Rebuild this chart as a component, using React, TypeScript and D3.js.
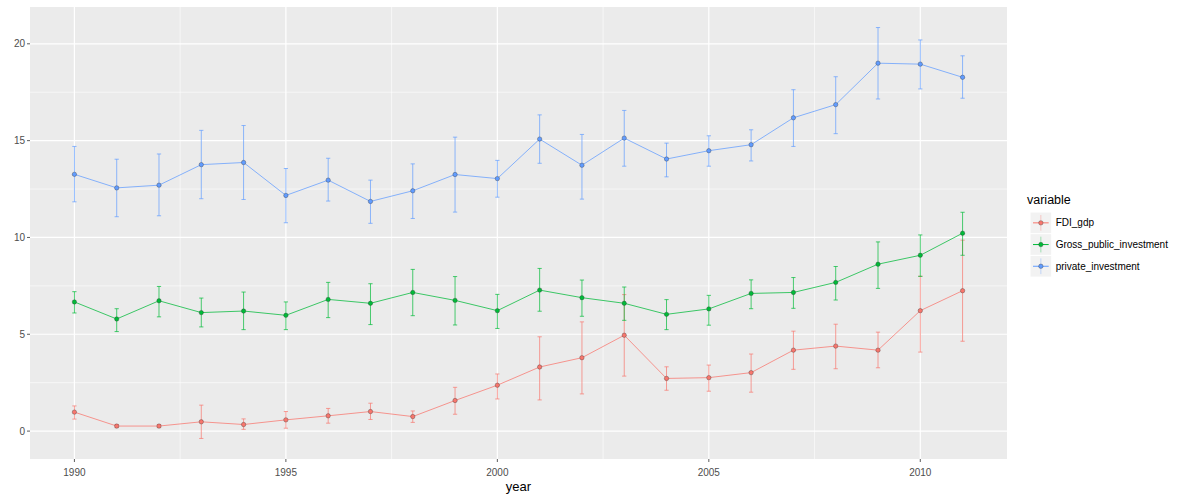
import React from 'react';
import * as d3 from 'd3';

const years = [1990, 1991, 1992, 1993, 1994, 1995, 1996, 1997, 1998, 1999, 2000, 2001, 2002, 2003, 2004, 2005, 2006, 2007, 2008, 2009, 2010, 2011];

const seriesNames = ['FDI_gdp', 'Gross_public_investment', 'private_investment'];
const seriesColors = ['#F8766D', '#00BA38', '#619CFF'];

const fdiMean = [0.98, 0.26, 0.26, 0.48, 0.34, 0.58, 0.79, 1.01, 0.75, 1.58, 2.37, 3.31, 3.79, 4.95, 2.72, 2.76, 3.02, 4.18, 4.39, 4.18, 6.22, 7.25];
const fdiLow = [0.62, 0.18, 0.18, -0.38, 0.09, 0.15, 0.41, 0.6, 0.45, 0.87, 1.66, 1.61, 1.92, 2.84, 2.11, 2.06, 2.01, 3.19, 3.22, 3.27, 4.08, 4.64];
const fdiHigh = [1.3, 0.34, 0.34, 1.34, 0.63, 1.01, 1.17, 1.44, 1.04, 2.26, 2.95, 4.87, 5.64, 7.05, 3.32, 3.41, 3.98, 5.16, 5.52, 5.11, 8.0, 9.86];

const gpiMean = [6.67, 5.79, 6.73, 6.12, 6.2, 5.98, 6.8, 6.6, 7.16, 6.75, 6.22, 7.28, 6.89, 6.6, 6.03, 6.31, 7.11, 7.16, 7.68, 8.62, 9.08, 10.22];
const gpiLow = [6.1, 5.14, 5.9, 5.38, 5.24, 5.24, 5.86, 5.5, 5.96, 5.48, 5.3, 6.19, 5.93, 5.72, 5.24, 5.47, 6.32, 6.34, 6.77, 7.37, 7.99, 9.08];
const gpiHigh = [7.2, 6.32, 7.47, 6.87, 7.18, 6.67, 7.68, 7.61, 8.35, 7.98, 7.06, 8.4, 7.8, 7.44, 6.79, 7.01, 7.81, 7.93, 8.5, 9.77, 10.13, 11.3];

const pvtMean = [13.26, 12.56, 12.7, 13.76, 13.87, 12.17, 12.96, 11.86, 12.41, 13.25, 13.04, 15.08, 13.73, 15.13, 14.05, 14.48, 14.79, 16.18, 16.86, 19.0, 18.95, 18.27];
const pvtLow = [11.84, 11.07, 11.12, 12.0, 11.96, 10.76, 11.88, 10.73, 10.98, 11.31, 12.08, 13.83, 11.98, 13.68, 13.13, 13.68, 13.95, 14.7, 15.36, 17.15, 17.67, 17.19];
const pvtHigh = [14.7, 14.04, 14.31, 15.53, 15.78, 13.56, 14.09, 12.96, 13.8, 15.18, 13.98, 16.33, 15.32, 16.56, 14.87, 15.25, 15.56, 17.63, 18.3, 20.84, 20.2, 19.38];

const xTicks = [1990, 1995, 2000, 2005, 2010];
const yTicks = [0, 5, 10, 15, 20];

const W = 1186;
const H = 499;
const panel = { left: 30, right: 1007, top: 7, bottom: 459 };

const App = () => {
  const series = [
    { mean: fdiMean, low: fdiLow, high: fdiHigh },
    { mean: gpiMean, low: gpiLow, high: gpiHigh },
    { mean: pvtMean, low: pvtLow, high: pvtHigh },
  ].map((s, i) => ({
    ...s,
    name: seriesNames[i],
    color: seriesColors[i],
    pts: years.map((yr, j) => ({ year: yr, mean: s.mean[j], low: s.low[j], high: s.high[j] })),
  }));

  // ggplot style 5% expansion
  const xExt = d3.extent(years) as [number, number];
  const xPad = (xExt[1] - xExt[0]) * 0.05;
  const allY = series.flatMap(s => [...s.low, ...s.high]);
  const yExt = d3.extent(allY) as [number, number];
  const yPad = (yExt[1] - yExt[0]) * 0.05;

  const x = d3.scaleLinear().domain([xExt[0] - xPad, xExt[1] + xPad]).range([panel.left, panel.right]);
  const y = d3.scaleLinear().domain([yExt[0] - yPad, yExt[1] + yPad]).range([panel.bottom, panel.top]);

  const line = d3.line<any>().x(d => x(d.year)).y(d => y(d.mean));

  const xMinor = xTicks.slice(0, -1).map(t => t + 2.5).concat([xTicks[0] - 2.5, xTicks[xTicks.length - 1] + 2.5])
    .filter(t => x(t) > panel.left && x(t) < panel.right);
  const yMinor = yTicks.slice(0, -1).map(t => t + 2.5).concat([yTicks[0] - 2.5, yTicks[yTicks.length - 1] + 2.5])
    .filter(t => y(t) < panel.bottom && y(t) > panel.top);

  const capW = x(1990.05) - x(1990);

  const legendX = 1030;
  const keySize = 21.7;
  const legendTop = 212;

  return (
    <svg width={W} height={H} style={{ position: 'absolute', left: 0, top: 0, background: '#fff' }}
      fontFamily="'Liberation Sans', Arial, sans-serif">
      <rect x={panel.left} y={panel.top} width={panel.right - panel.left} height={panel.bottom - panel.top} fill="#EBEBEB" />
      {xMinor.map(t => (
        <line key={'xm' + t} x1={x(t)} x2={x(t)} y1={panel.top} y2={panel.bottom} stroke="#fff" strokeWidth={0.6} />
      ))}
      {yMinor.map(t => (
        <line key={'ym' + t} x1={panel.left} x2={panel.right} y1={y(t)} y2={y(t)} stroke="#fff" strokeWidth={0.6} />
      ))}
      {xTicks.map(t => (
        <line key={'xg' + t} x1={x(t)} x2={x(t)} y1={panel.top} y2={panel.bottom} stroke="#fff" strokeWidth={1.2} />
      ))}
      {yTicks.map(t => (
        <line key={'yg' + t} x1={panel.left} x2={panel.right} y1={y(t)} y2={y(t)} stroke="#fff" strokeWidth={1.2} />
      ))}

      {/* error bars */}
      {series.map(s => (
        <g key={'eb' + s.name} stroke={s.color} strokeWidth={1} strokeOpacity={0.7}>
          {s.pts.map(p => (
            <g key={p.year}>
              <line x1={x(p.year)} x2={x(p.year)} y1={y(p.low)} y2={y(p.high)} />
              <line x1={x(p.year) - capW} x2={x(p.year) + capW} y1={y(p.low)} y2={y(p.low)} />
              <line x1={x(p.year) - capW} x2={x(p.year) + capW} y1={y(p.high)} y2={y(p.high)} />
            </g>
          ))}
        </g>
      ))}
      {/* lines */}
      {series.map(s => (
        <path key={'ln' + s.name} d={line(s.pts) || ''} fill="none" stroke={s.color} strokeWidth={1} strokeOpacity={0.75} />
      ))}
      {/* points */}
      {series.map(s => (
        <g key={'pt' + s.name} fill={s.color}>
          {s.pts.map(p => (
            <circle key={p.year} cx={x(p.year)} cy={y(p.mean)} r={2.2} stroke="#333" strokeOpacity={0.5} strokeWidth={0.7} />
          ))}
        </g>
      ))}

      {/* y axis */}
      {yTicks.map(t => (
        <g key={'yt' + t}>
          <line x1={panel.left - 3} x2={panel.left} y1={y(t)} y2={y(t)} stroke="#333" strokeWidth={0.8} />
          <text x={panel.left - 5} y={y(t)} dy="0.35em" textAnchor="end" fontSize={10} fill="#4D4D4D">{t}</text>
        </g>
      ))}
      {/* x axis */}
      {xTicks.map(t => (
        <g key={'xt' + t}>
          <line x1={x(t)} x2={x(t)} y1={panel.bottom} y2={panel.bottom + 3} stroke="#333" strokeWidth={0.8} />
          <text x={x(t)} y={476} textAnchor="middle" fontSize={10} fill="#4D4D4D">{t}</text>
        </g>
      ))}
      <text x={(panel.left + panel.right) / 2} y={491} textAnchor="middle" fontSize={13} fill="#000">year</text>

      {/* legend */}
      <text x={1027} y={204} fontSize={12.5} fill="#000">variable</text>
      {series.map((s, i) => {
        const ky = legendTop + i * keySize;
        const cx = legendX + keySize / 2;
        const cy = ky + keySize / 2;
        return (
          <g key={'lg' + s.name}>
            <rect x={legendX} y={ky} width={keySize} height={keySize} fill="#F2F2F2" stroke="#fff" strokeWidth={1} />
            <line x1={cx} x2={cx} y1={ky + 3} y2={ky + keySize - 3} stroke={s.color} strokeOpacity={0.35} strokeWidth={1} />
            <line x1={legendX + 3} x2={legendX + keySize - 3} y1={cy} y2={cy} stroke={s.color} strokeWidth={1} />
            <circle cx={cx} cy={cy} r={2.2} fill={s.color} stroke="#333" strokeOpacity={0.5} strokeWidth={0.7} />
            <text x={legendX + keySize + 4} y={cy} dy="0.35em" fontSize={10} fill="#000">{s.name}</text>
          </g>
        );
      })}
    </svg>
  );
};

export default App;
